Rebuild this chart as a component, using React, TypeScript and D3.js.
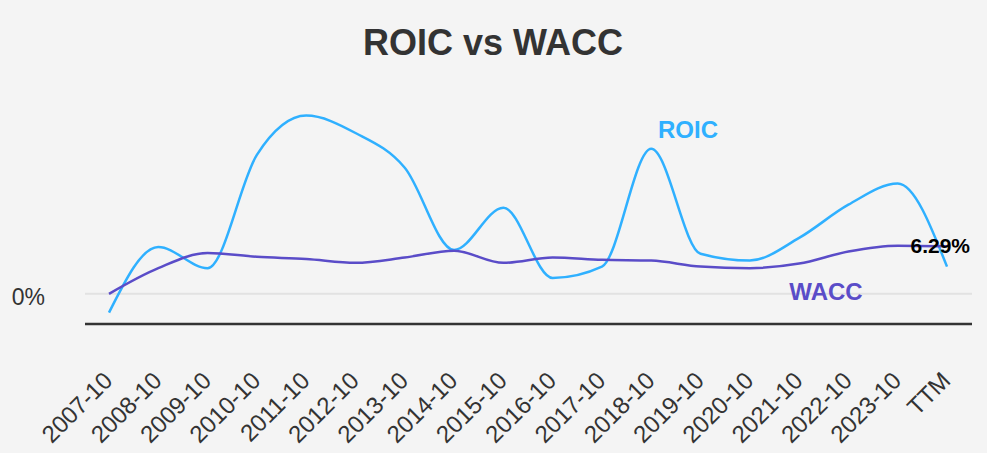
import React from "react";
import * as d3 from "d3";

const categories = ["2007-10","2008-10","2009-10","2010-10","2011-10","2012-10","2013-10","2014-10","2015-10","2016-10","2017-10","2018-10","2019-10","2020-10","2021-10","2022-10","2023-10","TTM"];
const roic = [-2.5, 6.2, 3.4, 18.4, 23.6, 21.3, 16.7, 5.8, 11.4, 2.1, 3.6, 19.2, 5.3, 4.4, 7.4, 11.8, 14.6, 3.6];
const wacc = [0, 3.4, 5.4, 4.9, 4.6, 4.1, 4.8, 5.7, 4.1, 4.8, 4.5, 4.4, 3.6, 3.4, 4.0, 5.6, 6.36, 6.29];
const yTicks = [0];

const W = 987, H = 453;

export default function App() {
  const x = d3.scalePoint<string>().domain(categories).range([109, 947]);
  const y = d3.scaleLinear().domain([-4, 24]).range([324, 112.6]);
  const line = d3.line<number>().x((_, i) => x(categories[i])!).y(d => y(d)).curve(d3.curveMonotoneX);
  const font = "'Liberation Sans', Arial, Helvetica, sans-serif";
  const last = wacc[wacc.length - 1];
  return (
    <>
      <style>{"body{margin:0}"}</style>
      <svg width={W} height={H} style={{ display: "block", background: "#f4f4f4", fontFamily: font }}>
        <rect width={W} height={H} fill="#f4f4f4" />
        <text x={493} y={55} textAnchor="middle" fontSize={36} fontWeight="bold" fill="#333">ROIC vs WACC</text>
        {yTicks.map(t => (
          <g key={t}>
            <line x1={85} x2={972} y1={y(t)} y2={y(t)} stroke="#e2e2e2" strokeWidth={2} />
            <text x={45} y={y(t) + 11} textAnchor="end" fontSize={23} fill="#333">{t + "%"}</text>
          </g>
        ))}
        <line x1={85} x2={972} y1={324} y2={324} stroke="#333" strokeWidth={2.5} />
        <path d={line(roic)!} fill="none" stroke="#2fb0ff" strokeWidth={2.5} />
        <path d={line(wacc)!} fill="none" stroke="#5a4cc8" strokeWidth={2.5} />
        {categories.map(c => (
          <text key={c} transform={`translate(${x(c)! + 5},382) rotate(-45)`} textAnchor="end" fontSize={24} fill="#333">{c}</text>
        ))}
        <text x={688} y={138} textAnchor="middle" fontSize={24} fontWeight="bold" fill="#2fb0ff">ROIC</text>
        <text x={826} y={300} textAnchor="middle" fontSize={24} fontWeight="bold" fill="#5a4cc8">WACC</text>
        <text x={970} y={253} textAnchor="end" fontSize={21} fontWeight="bold" fill="#000">{last.toFixed(2) + "%"}</text>
      </svg>
    </>
  );
}
